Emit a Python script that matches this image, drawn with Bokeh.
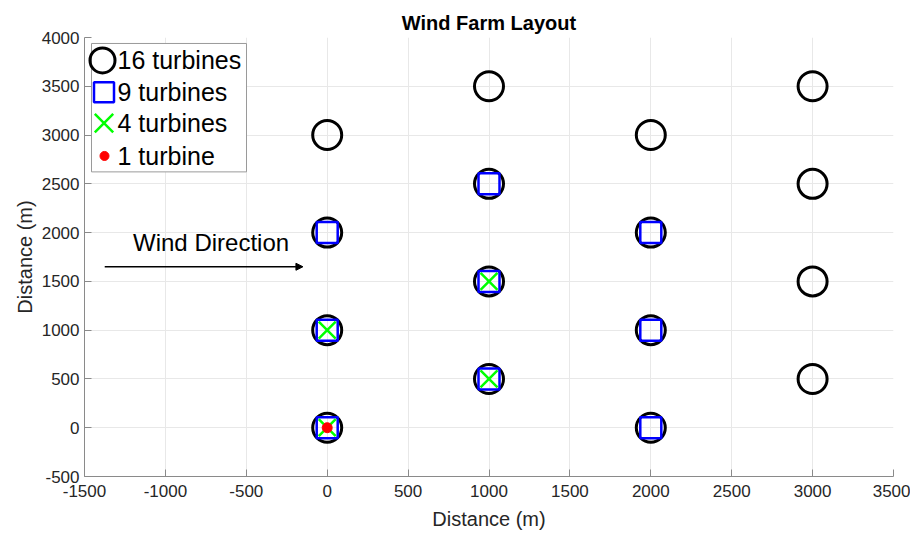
from bokeh.plotting import figure
from bokeh.models import (Range1d, SingleIntervalTicker, Arrow, NormalHead, Label,
                          ColumnDataSource, CustomJSTickFormatter)
from bokeh.core.properties import value
from bokeh.embed import file_html
from bokeh.resources import INLINE

# ---- data ----
x16 = [0, 0, 0, 0, 1000, 1000, 1000, 1000, 2000, 2000, 2000, 2000, 3000, 3000, 3000, 3000]
y16 = [0, 1000, 2000, 3000, 500, 1500, 2500, 3500, 0, 1000, 2000, 3000, 500, 1500, 2500, 3500]
x9 = [0, 0, 0, 1000, 1000, 1000, 2000, 2000, 2000]
y9 = [0, 1000, 2000, 500, 1500, 2500, 0, 1000, 2000]
x4 = [0, 0, 1000, 1000]
y4 = [0, 1000, 500, 1500]
x1 = [0]
y1 = [0]
legend_labels = ["16 turbines", "9 turbines", "4 turbines", "1 turbine"]
arrow_x = [-1375, -150]
arrow_y = [1650, 1650]
arrow_text = "Wind Direction"
arrow_text_pos = [-1200, 1900]

FONT = "Liberation Sans"

W, H = 910, 532
BL, BR, BT, BB = 84, 17, 37, 54
p = figure(width=W, height=H, output_backend="svg", toolbar_location=None,
           x_range=Range1d(-1500, 3500), y_range=Range1d(-500, 4000),
           min_border_left=BL, min_border_right=BR, min_border_top=BT, min_border_bottom=BB,
           title="Wind Farm Layout")
p.outline_line_color = None
p.background_fill_color = "white"

p.title.text_font = FONT
p.title.text_font_size = "20px"
p.title.text_font_style = "bold"
p.title.align = "center"
p.title.text_color = "black"
p.title.standoff = 8

fmt = CustomJSTickFormatter(code="return String(tick);")
for ax in (p.xaxis[0], p.yaxis[0]):
    ax.ticker = SingleIntervalTicker(interval=500)
    ax.formatter = fmt
    ax.axis_line_color = "#8a8a8a"
    ax.major_tick_line_color = "#8a8a8a"
    ax.major_tick_in = 7
    ax.major_tick_out = 0
    ax.minor_tick_line_color = None
    ax.major_label_text_font = FONT
    ax.major_label_text_font_size = "17px"
    ax.major_label_text_color = "#262626"
    ax.axis_label = "Distance (m)"
    ax.axis_label_text_font = FONT
    ax.axis_label_text_font_size = "20px"
    ax.axis_label_text_font_style = "normal"
    ax.axis_label_text_color = "#262626"
p.xaxis.major_label_standoff = 4
p.xaxis.axis_label_standoff = 8
p.yaxis.major_label_standoff = 1
p.yaxis.axis_label_standoff = 3

p.grid.grid_line_color = "#e8e8e8"
p.xgrid.ticker = SingleIntervalTicker(interval=500)
p.ygrid.ticker = SingleIntervalTicker(interval=500)

# ---- turbines ----
p.scatter(x16, y16, marker="circle", size=29, fill_color=None, line_color="black", line_width=3)
p.scatter(x9, y9, marker="square", size=21, fill_color=None, line_color="#0000ff", line_width=2.5)
p.scatter(x4, y4, marker="x", size=24, line_color="#00ff00", line_width=2.5)
p.scatter(x1, y1, marker="circle", size=10, fill_color="#ff0000", line_color="#ff0000")

# ---- wind arrow ----
p.add_layout(Arrow(end=NormalHead(size=7, fill_color="black", line_color="black", line_width=1),
                   x_start=arrow_x[0], y_start=arrow_y[0], x_end=arrow_x[1], y_end=arrow_y[1],
                   line_color="black", line_width=1.5))
p.add_layout(Label(x=arrow_text_pos[0], y=arrow_text_pos[1], text=arrow_text,
                   text_font=FONT, text_font_size="24px", text_color="black",
                   text_baseline="middle", text_align="left"))

# ---- manual legend in frame pixel coordinates ----
FW = W - BL - BR
FH = H - BT - BB
p.extra_x_ranges = {"px": Range1d(0, FW)}
p.extra_y_ranges = {"py": Range1d(0, FH)}
lg = dict(x_range_name="px", y_range_name="py")
p.quad(left=[7], right=[162], bottom=[306], top=[435], fill_color="white",
       line_color="#9a9a9a", line_width=1, **lg)
row_y = [418, 386, 355, 322]
p.scatter([18], [row_y[0]], marker="circle", size=25, fill_color=None, line_color="black", line_width=3, **lg)
p.scatter([19.5], [row_y[1]], marker="square", size=20, fill_color=None, line_color="#0000ff", line_width=2.5, **lg)
p.scatter([19.5], [row_y[2]], marker="x", size=26, line_color="#00ff00", line_width=2.5, **lg)
p.scatter([20], [row_y[3]], marker="circle", size=9, fill_color="#ff0000", line_color="#ff0000", **lg)
src = ColumnDataSource(dict(x=[33] * 4, y=row_y, t=legend_labels))
p.text(x="x", y="y", text="t", source=src, text_font=value(FONT), text_font_size="25px",
       text_baseline="middle", text_align="left", text_color="black", **lg)

open("out.html", "w").write(file_html(p, INLINE))
